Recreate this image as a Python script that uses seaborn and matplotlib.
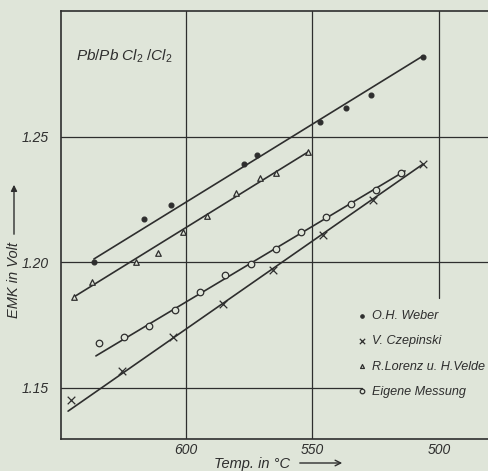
import numpy as np
import pandas as pd
import seaborn as sns
import matplotlib.pyplot as plt

sns.set_theme(style="white", context="paper")
plt.rcParams["font.family"] = ["Liberation Sans", "DejaVu Sans"]
plt.rcParams["mathtext.fontset"] = "custom"
plt.rcParams["mathtext.it"] = "Liberation Sans:italic"
plt.rcParams["mathtext.rm"] = "Liberation Sans"

BG = "#dfe5d9"
INK = "#2e2e2e"

# measured points (temperature in degC, EMK in volt)
weber_t = [636.4, 616.6, 605.9, 577.1, 571.9, 547.0, 536.8, 526.9, 506.3]
weber_e = [1.2000, 1.2171, 1.2227, 1.2390, 1.2426, 1.2558, 1.2614, 1.2665, 1.2817]

czep_t = [645.5, 625.3, 605.1, 585.4, 565.6, 545.8, 526.1, 506.3]
czep_e = [1.1450, 1.1566, 1.1701, 1.1833, 1.1968, 1.2108, 1.2247, 1.2390]

lorenz_t = [644.3, 637.2, 619.8, 611.1, 601.2, 591.7, 580.2, 570.8, 564.4, 551.8]
lorenz_e = [1.1861, 1.1920, 1.2000, 1.2036, 1.2120, 1.2183, 1.2275, 1.2335, 1.2355, 1.2438]

eigene_t = [634.4, 624.5, 614.6, 604.3, 594.5, 584.6, 574.3, 564.4, 554.5, 544.7, 534.8, 524.9, 515.0]
eigene_e = [1.1677, 1.1701, 1.1745, 1.1809, 1.1880, 1.1948, 1.1992, 1.2052, 1.2120, 1.2179, 1.2231, 1.2287, 1.2355]

# drawn straight lines (start / end)
weber_fit_t, weber_fit_e = [636.4, 506.3], [1.2012, 1.2821]
czep_fit_t, czep_fit_e = [646.6, 506.3], [1.1406, 1.2390]
lorenz_fit_t, lorenz_fit_e = [644.3, 551.8], [1.1861, 1.2438]
eigene_fit_t, eigene_fit_e = [635.6, 513.4], [1.1626, 1.2363]

x_ticks = [600, 550, 500]
y_ticks = [1.15, 1.20, 1.25]
y_ticklabels = ["1.15", "1.20", "1.25"]

fig = plt.figure(figsize=(4.88, 4.71), dpi=100)
fig.patch.set_facecolor(BG)
ax = fig.add_axes([61 / 488, 32 / 471, 427 / 488, 428 / 471])
ax.set_facecolor(BG)

ax.set_xlim(649.4, 480.6)
ax.set_ylim(1.1295, 1.3000)

# grid lines (interrupted by the key at lower right)
for t in x_ticks:
    ymin = 0.329 if t == 500 else 0.0
    ax.axvline(t, ymin=ymin, color=INK, lw=0.9, zorder=1)
for e in y_ticks:
    xmax = 0.705 if e == 1.15 else 1.0
    ax.axhline(e, xmax=xmax, color=INK, lw=0.9, zorder=1)

# fit lines
for ft, fe in [(weber_fit_t, weber_fit_e), (czep_fit_t, czep_fit_e),
               (lorenz_fit_t, lorenz_fit_e), (eigene_fit_t, eigene_fit_e)]:
    sns.lineplot(x=ft, y=fe, ax=ax, color=INK, lw=1.2, zorder=2)

series = [
    ("O.H. Weber", weber_t, weber_e, "o", 12, INK, INK),
    ("V. Czepinski", czep_t, czep_e, "x", 30, INK, INK),
    ("R.Lorenz u. H.Velde", lorenz_t, lorenz_e, "^", 16, BG, INK),
    ("Eigene Messung", eigene_t, eigene_e, "o", 22, BG, INK),
]
for name, t, e, m, s, fc, ec in series:
    df = pd.DataFrame({"t": t, "e": e})
    sns.scatterplot(data=df, x="t", y="e", ax=ax, marker=m, s=s,
                    facecolor=fc, edgecolor=ec, linewidth=0.9,
                    color=INK, label=name, zorder=3)

ax.set_xticks(x_ticks)
ax.set_xticklabels([str(t) for t in x_ticks], style="italic", fontsize=10, color=INK)
ax.set_yticks(y_ticks)
ax.set_yticklabels(y_ticklabels, style="italic", fontsize=10, color=INK)
ax.tick_params(axis="y", length=0, pad=9)
ax.tick_params(axis="x", length=0, pad=3)
ax.set_xlabel("")
ax.set_ylabel("")

for side in ["left", "top", "bottom"]:
    ax.spines[side].set_color(INK)
    ax.spines[side].set_linewidth(1.2)
ax.spines["right"].set_visible(False)

leg = ax.legend(loc="upper left", bbox_to_anchor=(0.663, 0.328), frameon=False,
                handletextpad=0.3, labelspacing=1.05, handlelength=1.0,
                markerscale=0.7, prop={"style": "italic", "size": 9.1})
for txt in leg.get_texts():
    txt.set_color(INK)

ax.text(0.035, 0.885, r"$Pb/Pb\ Cl_2\ /Cl_2$", transform=ax.transAxes,
        fontsize=11, color=INK)

# axis titles with arrows
fig.text(14 / 488, 1 - 280 / 471, "EMK in Volt", rotation=90, style="italic",
         fontsize=10.5, color=INK, ha="center", va="center")
fig.add_artist(plt.Annotation("", xy=(14 / 488, 1 - 182 / 471), xycoords="figure fraction",
                              xytext=(14 / 488, 1 - 237 / 471), textcoords="figure fraction",
                              arrowprops=dict(arrowstyle="-|>", color=INK, lw=1.0,
                                              mutation_scale=9)))
fig.text(252 / 488, 1 - 464 / 471, "Temp. in °C", style="italic",
         fontsize=10.5, color=INK, ha="center", va="center")
fig.add_artist(plt.Annotation("", xy=(345 / 488, 1 - 463 / 471), xycoords="figure fraction",
                              xytext=(297 / 488, 1 - 463 / 471), textcoords="figure fraction",
                              arrowprops=dict(arrowstyle="->", color=INK, lw=1.0,
                                              mutation_scale=10)))

fig.savefig("out.png", dpi=100, facecolor=BG)
